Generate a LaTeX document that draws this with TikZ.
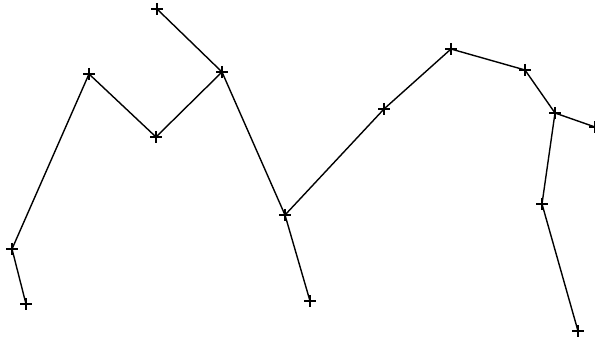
\documentclass[tikz,border=0pt]{standalone}
\begin{document}
\begin{tikzpicture}[x=1pt, y=-1pt, line width=1.4pt,
    plusmark/.style={line width=1.5pt}]
    % Frame of the sheet
    \useasboundingbox (0,0) rectangle (595,342);

    % Sampled points
    \coordinate (top) at (157, 9);
    \coordinate (peakB) at (222, 72);
    \coordinate (dip) at (156, 137);
    \coordinate (peakA) at (89, 74);
    \coordinate (low) at (12, 249);
    \coordinate (endA) at (26, 304);
    \coordinate (fork) at (285, 215);
    \coordinate (endB) at (310, 301);
    \coordinate (rise) at (384, 109);
    \coordinate (crest) at (451, 49);
    \coordinate (step) at (525, 70);
    \coordinate (knee) at (555, 113);
    \coordinate (edge) at (595, 127);
    \coordinate (shin) at (542, 204);
    \coordinate (endC) at (578, 331);

    % Polyline
    \draw (endA) -- (low) -- (peakA) -- (dip) -- (peakB) -- (top);
    \draw (peakB) -- (fork) -- (endB);
    \draw (fork) -- (rise) -- (crest) -- (step) -- (knee) -- (edge);
    \draw (knee) -- (shin) -- (endC);

    % Crosses on the points
    \foreach \p in {top, peakB, dip, peakA, low, endA, fork, endB, rise, crest, step, knee, edge, shin, endC}
        \draw[plusmark] (\p) +(-6,0) -- +(6,0) (\p) +(0,-6) -- +(0,6);
\end{tikzpicture}
\end{document}
